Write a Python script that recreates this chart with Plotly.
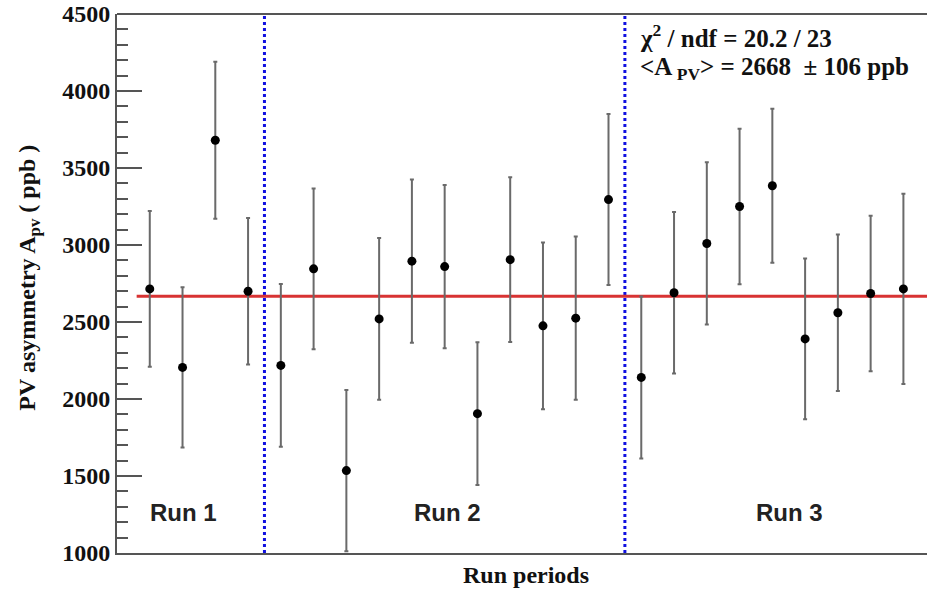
import plotly.graph_objects as go

# Parity-violating asymmetry per run period
run_index = list(range(1, 25))
asym_ppb = [2715, 2205, 3680, 2700, 2218, 2845, 1535, 2520, 2895, 2860, 1905, 2905,
            2475, 2525, 3295, 2140, 2690, 3010, 3250, 3385, 2390, 2560, 2685, 2715]
asym_err = [505, 520, 510, 476, 528, 522, 524, 525, 530, 530, 463, 535,
            542, 530, 555, 526, 525, 527, 505, 500, 522, 508, 505, 618]

fit_mean = 2668
fit_err = 106
chi2, ndf = 20.2, 23
fit_x = [0.6, 24.72]
run_boundaries = [4.5, 15.5]
run_labels = ["Run 1", "Run 2", "Run 3"]
run_label_x = [2.04, 10.08, 20.53]
run_label_y = 1260

x_range = [0, 24.72]
y_range = [1000, 4500]

serif = "Liberation Serif"
sans = "Liberation Sans"

fig = go.Figure()

# run-period boundaries
for xb in run_boundaries:
    fig.add_trace(go.Scatter(
        x=[xb, xb], y=y_range, mode="lines",
        line=dict(color="#1010e0", width=3, dash="dot"),
        hoverinfo="skip", showlegend=False))

# constant fit
fig.add_trace(go.Scatter(
    x=fit_x, y=[fit_mean, fit_mean], mode="lines",
    line=dict(color="#d83333", width=3),
    hoverinfo="skip", showlegend=False))

# measurements
fig.add_trace(go.Scatter(
    x=run_index, y=asym_ppb, mode="markers",
    marker=dict(color="black", size=9),
    error_y=dict(type="data", array=asym_err, visible=True,
                 color="#6a6a6a", thickness=2, width=2),
    showlegend=False, cliponaxis=True))

fig.add_shape(type="line", xref="paper", yref="paper", x0=0, x1=1, y0=1, y1=1,
              line=dict(color="#555555", width=2))

for txt, xl in zip(run_labels, run_label_x):
    fig.add_annotation(x=xl, y=run_label_y, xref="x", yref="y", text=txt,
                       showarrow=False, xanchor="center", yanchor="middle",
                       font=dict(family=sans, size=24, color="#222222", weight="bold"))

fig.add_annotation(x=0.643, y=0.96, xref="paper", yref="paper",
                   text=f"\u03c7<sup>2</sup> / ndf = {chi2} / {ndf}",
                   showarrow=False, xanchor="left", yanchor="middle",
                   font=dict(family=serif, size=25, color="#111111", weight="bold"))
fig.add_annotation(x=0.643, y=0.898, xref="paper", yref="paper",
                   text=f"&lt;A<sub> PV</sub>&gt; = {fit_mean}  \u00b1 {fit_err} ppb",
                   showarrow=False, xanchor="left", yanchor="middle",
                   font=dict(family=serif, size=25, color="#111111", weight="bold"))

# axis titles
fig.add_annotation(x=-0.108, y=0.51, xref="paper", yref="paper",
                   text="PV asymmetry A<sub>pv</sub> ( ppb )", textangle=-90,
                   showarrow=False, xanchor="center", yanchor="middle",
                   font=dict(family=serif, size=24, color="#111111", weight="bold"))
fig.add_annotation(x=0.505, y=-0.041, xref="paper", yref="paper",
                   text="Run periods",
                   showarrow=False, xanchor="center", yanchor="middle",
                   font=dict(family=serif, size=24, color="#111111", weight="bold"))

fig.update_layout(
    width=927, height=591,
    margin=dict(l=117, r=0, t=14, b=38),
    paper_bgcolor="white", plot_bgcolor="white",
    xaxis=dict(range=x_range, showgrid=False, zeroline=False, showline=True,
               linecolor="#555555", linewidth=2, ticks="", showticklabels=False),
    yaxis=dict(range=y_range, showgrid=False, zeroline=False, showline=True,
               linecolor="#555555", linewidth=2, ticks="inside", ticklen=25,
               tickwidth=2, tickcolor="#555555", dtick=500, tick0=1000,
               tickfont=dict(family=serif, size=24, color="#111111", weight="bold"),
               minor=dict(ticks="inside", ticklen=11, tickwidth=2,
                          tickcolor="#555555", dtick=100)),
)

fig.write_html("out.html")
